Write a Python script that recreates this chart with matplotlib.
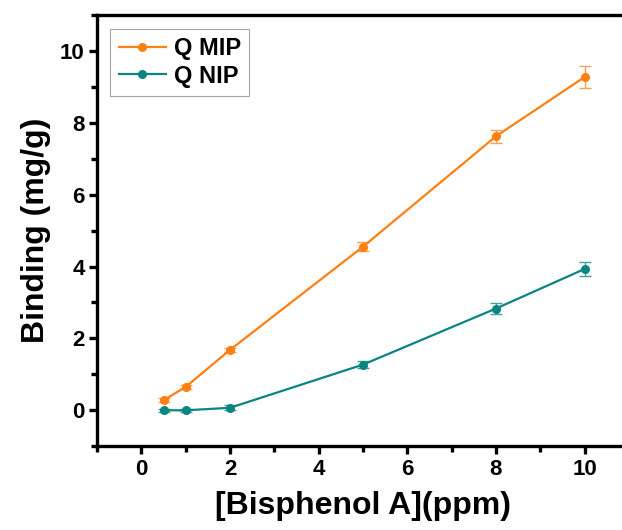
import matplotlib
matplotlib.use("Agg")
import matplotlib.pyplot as plt
from matplotlib.ticker import MultipleLocator

plt.rcParams['font.family'] = ['Liberation Sans', 'DejaVu Sans']
plt.rcParams['font.weight'] = 'bold'

# Bisphenol A concentration (ppm) and binding capacity (mg/g)
conc = [0.5, 1, 2, 5, 8, 10]
q_mip = [0.28, 0.65, 1.68, 4.55, 7.62, 9.27]
q_mip_err = [0.05, 0.06, 0.06, 0.12, 0.18, 0.3]
q_nip = [0.0, 0.0, 0.07, 1.27, 2.83, 3.93]
q_nip_err = [0.04, 0.04, 0.07, 0.1, 0.15, 0.2]

fig = plt.figure(figsize=(6.22, 5.30), dpi=100)
ax = fig.add_axes([0.156, 0.158, 0.855, 0.814])

orange = '#ff8010'
teal = '#0a8582'

mip = ax.errorbar(conc, q_mip, yerr=q_mip_err, color=orange, marker='o', markersize=5.5,
                  linewidth=1.6, elinewidth=1.0, capsize=4, capthick=1.0, ecolor='#ffa050')
nip = ax.errorbar(conc, q_nip, yerr=q_nip_err, color=teal, marker='o', markersize=5.5,
                  linewidth=1.6, elinewidth=1.0, capsize=4, capthick=1.0, ecolor='#3fa3a0')

ax.set_xlim(-1, 11)
ax.set_ylim(-1, 11)
ax.xaxis.set_major_locator(MultipleLocator(2))
ax.xaxis.set_minor_locator(MultipleLocator(1))
ax.yaxis.set_major_locator(MultipleLocator(2))
ax.yaxis.set_minor_locator(MultipleLocator(1))

for side in ax.spines.values():
    side.set_linewidth(2.4)
ax.tick_params(which='major', direction='out', length=6, width=2.4, labelsize=16, pad=3)
ax.tick_params(which='minor', direction='out', length=4, width=2.4)
ax.tick_params(top=False, right=False, which='both')
for lab in ax.get_xticklabels() + ax.get_yticklabels():
    lab.set_fontweight('bold')

ax.set_xlabel('[Bisphenol A](ppm)', fontsize=23, fontweight='bold', labelpad=8)
ax.set_ylabel('Binding (mg/g)', fontsize=23, fontweight='bold', labelpad=6)

# legend shows plain line+marker handles, without the error bars
leg = ax.legend([mip[0], nip[0]], ['Q MIP', 'Q NIP'], loc='upper left',
                bbox_to_anchor=(0.025, 0.968), fontsize=17,
                frameon=True, fancybox=False, handlelength=2.0, borderpad=0.35,
                labelspacing=0.2, handletextpad=0.35, borderaxespad=0.0)
leg.get_frame().set_edgecolor('#909090')
leg.get_frame().set_linewidth(0.8)
for t in leg.get_texts():
    t.set_fontweight('bold')

fig.savefig('out.png', dpi=100)
